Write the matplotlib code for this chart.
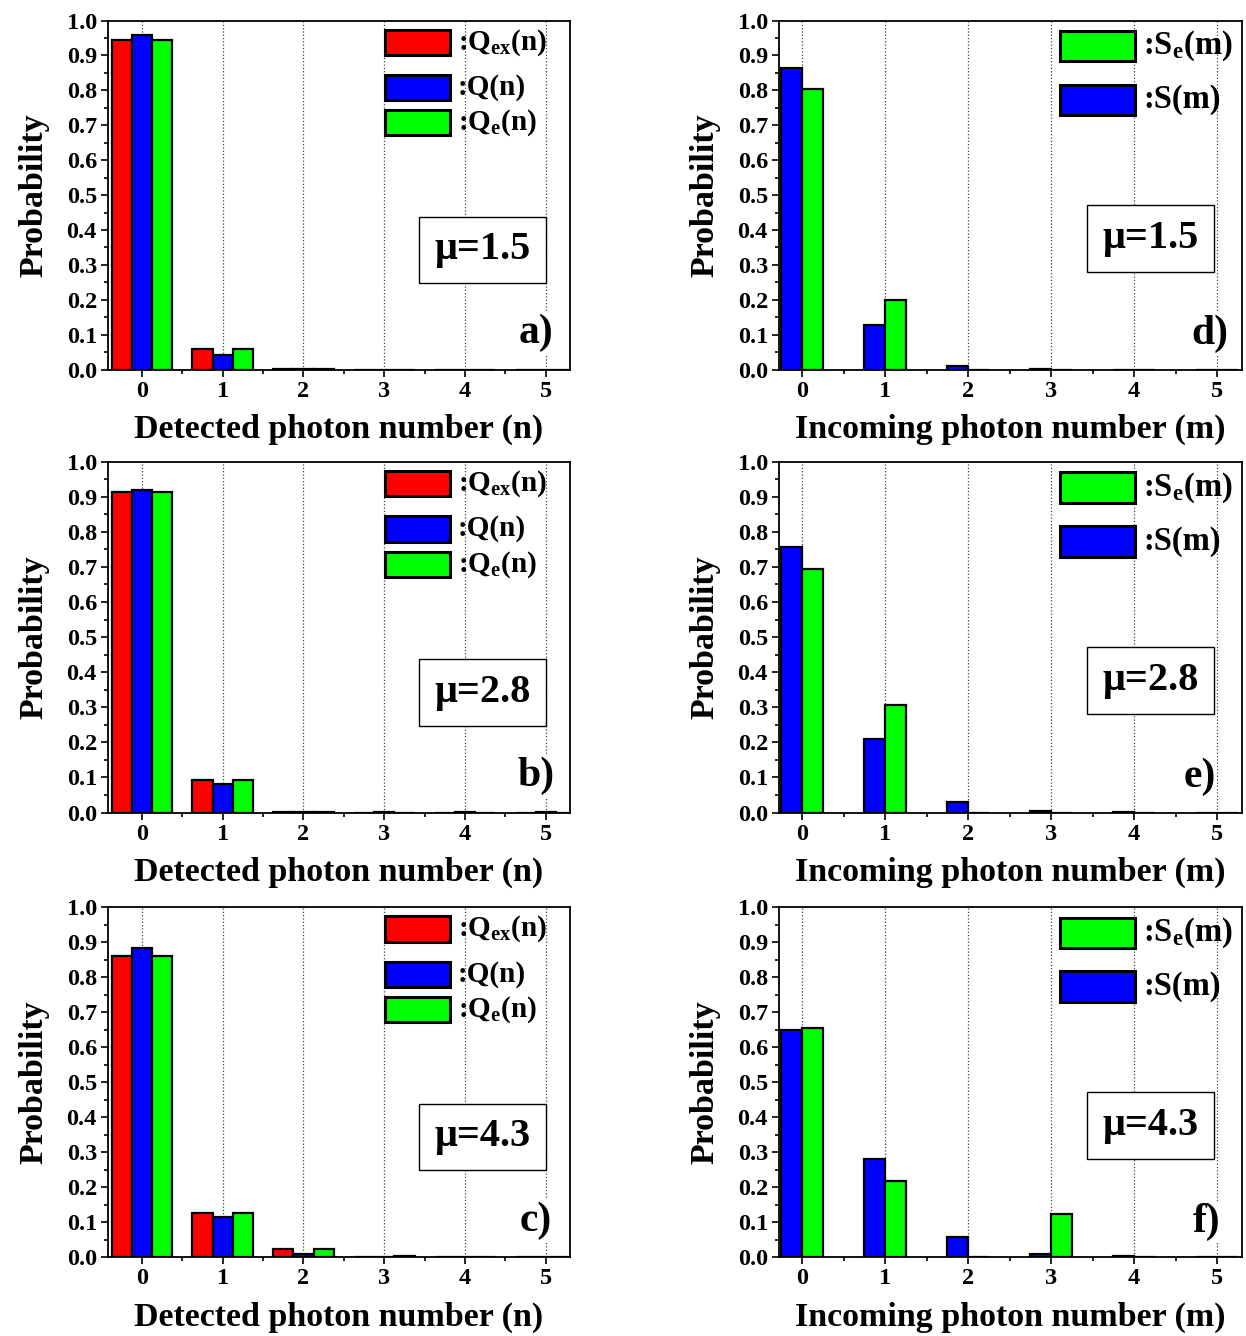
import matplotlib
matplotlib.use('Agg')
import matplotlib.pyplot as plt
from matplotlib.ticker import MultipleLocator, FormatStrFormatter
import numpy as np

plt.rcParams['font.family'] = 'Liberation Serif'
plt.rcParams['font.weight'] = 'bold'
plt.rcParams['mathtext.fontset'] = 'custom'
plt.rcParams['mathtext.rm'] = 'Liberation Serif:bold'
plt.rcParams['mathtext.it'] = 'Liberation Serif:bold'
plt.rcParams['mathtext.bf'] = 'Liberation Serif:bold'

# ─── Data ─────────────────────────────────────────────────────────────────────
n = [0, 1, 2, 3, 4, 5]
mus = ['1.5', '2.8', '4.3']

# detected photon number distributions (left column)
Qex_a = [0.943, 0.060, 0.001, 0.0, 0.0, 0.0]
Q_a   = [0.958, 0.043, 0.002, 0.0, 0.0, 0.0]
Qe_a  = [0.943, 0.060, 0.001, 0.0, 0.0, 0.0]

Qex_b = [0.912, 0.092, 0.001, 0.0, 0.0, 0.0]
Q_b   = [0.920, 0.080, 0.003, 0.001, 0.001, 0.001]
Qe_b  = [0.912, 0.092, 0.001, 0.0, 0.0, 0.0]

Qex_c = [0.860, 0.127, 0.024, 0.001, 0.0, 0.0]
Q_c   = [0.884, 0.115, 0.008, 0.001, 0.001, 0.001]
Qe_c  = [0.860, 0.127, 0.022, 0.002, 0.0, 0.0]

# incoming photon number distributions (right column)
S_d  = [0.864, 0.128, 0.010, 0.002, 0.0, 0.0]
Se_d = [0.804, 0.200, 0.0, 0.0, 0.0, 0.0]

S_e  = [0.757, 0.211, 0.030, 0.004, 0.001, 0.0]
Se_e = [0.693, 0.306, 0.0, 0.0, 0.0, 0.0]

S_f  = [0.650, 0.279, 0.058, 0.009, 0.002, 0.001]
Se_f = [0.655, 0.218, 0.0, 0.124, 0.0, 0.0]

RED, BLUE, GREEN = '#ff0000', '#0000ff', '#00ff00'

fig = plt.figure(figsize=(12.46, 13.36), dpi=100)

rows = [(0.7234, 0.2612), (0.3918, 0.2627), (0.0591, 0.2620)]
LEFT_X, LEFT_W = 0.0867, 0.3708
RIGHT_X, RIGHT_W = 0.6252, 0.3716


def style(ax, xlim, xlabel):
    ax.set_xlim(*xlim)
    ax.set_ylim(0, 1.0)
    ax.xaxis.set_major_locator(MultipleLocator(1))
    ax.xaxis.set_minor_locator(MultipleLocator(0.5))
    ax.yaxis.set_major_locator(MultipleLocator(0.1))
    ax.yaxis.set_minor_locator(MultipleLocator(0.05))
    ax.yaxis.set_major_formatter(FormatStrFormatter('%.1f'))
    ax.tick_params(which='major', direction='out', length=5, width=1.2,
                   labelsize=17.5, pad=3)
    ax.tick_params(which='minor', direction='out', length=3, width=1.2)
    for s in ax.spines.values():
        s.set_linewidth(1.3)
    ax.grid(axis='x', which='major', linestyle=':', color='#444444', lw=0.9)
    ax.set_axisbelow(True)
    ax.set_ylabel('Probability', fontsize=24.5, fontweight='bold', labelpad=12)
    ax.set_xlabel(xlabel, fontsize=24.5, fontweight='bold', labelpad=9)


def mu_box(ax, x0, x1, y0, y1, mu):
    ax.add_patch(plt.Rectangle((x0, y0), x1 - x0, y1 - y0, transform=ax.transAxes,
                               fc='white', ec='black', lw=1.0, zorder=5))
    ax.text((x0 + x1) / 2, (y0 + y1) / 2, 'μ=' + mu, transform=ax.transAxes,
            ha='center', va='center', fontsize=29, fontweight='bold', zorder=6)


def letter(ax, x, y, s):
    ax.text(x, y, s, transform=ax.transAxes, ha='center', va='center',
            fontsize=30, fontweight='bold', zorder=6,
            bbox=dict(fc='white', ec='none', pad=1))


def legend_item(ax, x, y0, w, h, color, label, tx, fs):
    ax.add_patch(plt.Rectangle((x, y0), w, h, transform=ax.transAxes,
                               fc=color, ec='black', lw=2.2, zorder=6))
    ax.text(tx, y0 + h / 2, label, transform=ax.transAxes, ha='left',
            va='center', fontsize=fs, fontweight='bold', zorder=6)


left_sets = [(Qex_a, Q_a, Qe_a, 'a)'), (Qex_b, Q_b, Qe_b, 'b)'), (Qex_c, Q_c, Qe_c, 'c)')]
right_sets = [(S_d, Se_d, 'd)'), (S_e, Se_e, 'e)'), (S_f, Se_f, 'f)')]
x = np.array(n)

for i, (bottom, height) in enumerate(rows):
    # left column
    ax = fig.add_axes([LEFT_X, bottom, LEFT_W, height])
    qex, q, qe, lab = left_sets[i]
    ax.bar(x - 0.25, qex, width=0.25, color=RED, ec='black', lw=1.6, zorder=3)
    ax.bar(x, q, width=0.25, color=BLUE, ec='black', lw=1.6, zorder=3)
    ax.bar(x + 0.25, qe, width=0.25, color=GREEN, ec='black', lw=1.6, zorder=3)
    style(ax, (-0.42, 5.3), 'Detected photon number (n)')
    legend_item(ax, 0.60, 0.901, 0.14, 0.072, RED, ':Q$_{ex}$(n)', 0.757, 21)
    legend_item(ax, 0.60, 0.772, 0.14, 0.072, BLUE, ':Q(n)', 0.757, 21)
    legend_item(ax, 0.60, 0.671, 0.14, 0.072, GREEN, ':Q$_{e}$(n)', 0.757, 21)
    mu_box(ax, 0.673, 0.948, 0.248, 0.438, mus[i])
    letter(ax, 0.926, 0.104, lab)

    # right column
    ax = fig.add_axes([RIGHT_X, bottom, RIGHT_W, height])
    s, se, lab = right_sets[i]
    ax.bar(x - 0.125, s, width=0.25, color=BLUE, ec='black', lw=1.6, zorder=3)
    ax.bar(x + 0.125, se, width=0.25, color=GREEN, ec='black', lw=1.6, zorder=3)
    style(ax, (-0.28, 5.3), 'Incoming photon number (m)')
    legend_item(ax, 0.607, 0.883, 0.162, 0.087, GREEN, ':S$_{e}$(m)', 0.786, 23.5)
    legend_item(ax, 0.607, 0.729, 0.162, 0.087, BLUE, ':S(m)', 0.786, 23.5)
    mu_box(ax, 0.665, 0.940, 0.280, 0.472, mus[i])
    letter(ax, [0.931, 0.909, 0.924][i], 0.102, lab)

plt.savefig('out.png', dpi=100, facecolor='white')
